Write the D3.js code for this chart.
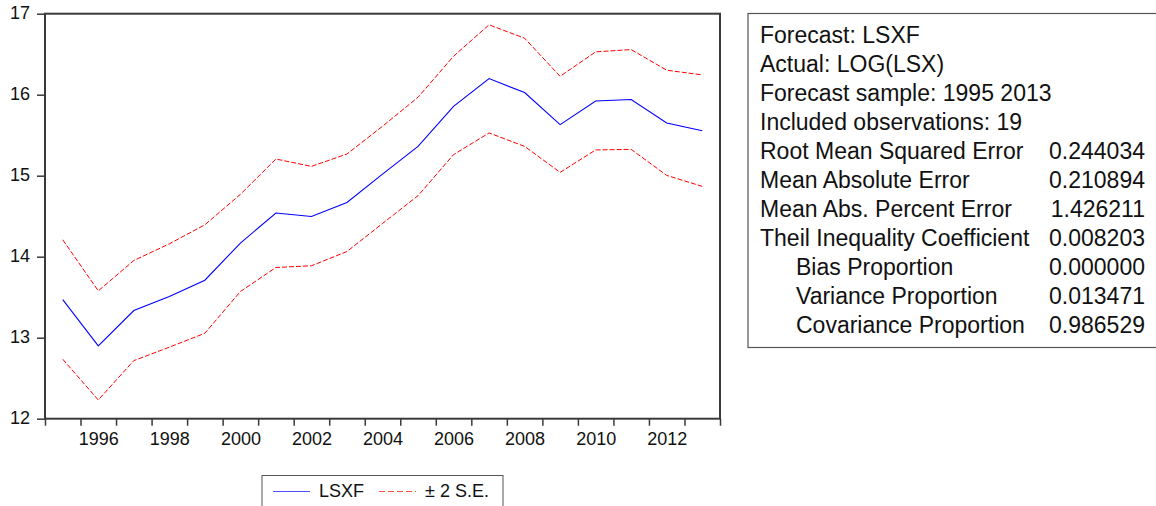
<!DOCTYPE html>
<html>
<head>
<meta charset="utf-8">
<script src="https://cdn.jsdelivr.net/npm/d3@7"></script>
<style>
  html, body { margin: 0; padding: 0; background: #fff; }
  svg { display: block; font-family: "Liberation Sans", Arial, sans-serif; }
</style>
</head>
<body>
<svg id="chart" width="1156" height="506"></svg>
<script>
// Forecast path of LSXF with a band of plus/minus two standard errors
const years = [1995, 1996, 1997, 1998, 1999, 2000, 2001, 2002, 2003, 2004,
               2005, 2006, 2007, 2008, 2009, 2010, 2011, 2012, 2013];
const lsxf  = [13.47, 12.90, 13.335, 13.51, 13.71, 14.168, 14.54, 14.497, 14.67, 15.02,
               15.362, 15.857, 16.199, 16.026, 15.63, 15.923, 15.94, 15.651, 15.556];
const upper = [14.209, 13.578, 13.953, 14.159, 14.394, 14.77, 15.206, 15.115, 15.268, 15.61,
               15.968, 16.475, 16.863, 16.697, 16.227, 16.529, 16.557, 16.302, 16.245];
const lower = [12.734, 12.231, 12.717, 12.883, 13.055, 13.57, 13.867, 13.888, 14.064, 14.41,
               14.753, 15.26, 15.528, 15.362, 15.041, 15.318, 15.325, 15.004, 14.868];

const yTicks = [12, 13, 14, 15, 16, 17];
const xLabelYears = [1996, 1998, 2000, 2002, 2004, 2006, 2008, 2010, 2012];

const legendLabels = ["LSXF", "\u00b1 2 S.E."];

// Forecast evaluation statistics
const statLabels = [
  "Forecast: LSXF",
  "Actual: LOG(LSX)",
  "Forecast sample: 1995 2013",
  "Included observations: 19",
  "Root Mean Squared Error",
  "Mean Absolute Error",
  "Mean Abs. Percent Error",
  "Theil Inequality Coefficient",
  "Bias Proportion",
  "Variance Proportion",
  "Covariance Proportion"
];
const statValues = ["", "", "", "", "0.244034", "0.210894", "1.426211", "0.008203",
                    "0.000000", "0.013471", "0.986529"];
const statLevels = [0, 0, 0, 0, 0, 0, 0, 0, 1, 1, 1];

const svg = d3.select("#chart");
const frame = { left: 45, right: 720, top: 13.7, bottom: 418.7 };
const axisColor = "#3a3a3a";

const x = d3.scaleLinear()
  .domain([years[0] - 0.5, years[years.length - 1] + 0.5])
  .range([frame.left, frame.right]);
const y = d3.scaleLinear().domain([12, 17]).range([frame.bottom, frame.top]);

// y axis
const gy = svg.append("g")
  .attr("transform", `translate(${frame.left},0)`)
  .call(d3.axisLeft(y).tickValues(yTicks).tickSize(8).tickPadding(7).tickFormat(d3.format("d")));
gy.select(".domain").remove();
gy.selectAll(".tick line").attr("stroke", axisColor).attr("stroke-width", 1.5);
gy.selectAll(".tick text").attr("font-size", 18).attr("fill", "#111")
  .attr("font-family", "Liberation Sans, Arial, sans-serif").attr("dy", "0.25em");

// x axis: ticks on year boundaries, labels centred on even years
const boundaries = years.map(v => v - 0.5).concat([years[years.length - 1] + 0.5]);
const gxTicks = svg.append("g")
  .attr("transform", `translate(0,${frame.bottom})`)
  .call(d3.axisBottom(x).tickValues(boundaries).tickSize(7).tickFormat(""));
gxTicks.select(".domain").remove();
gxTicks.selectAll(".tick line").attr("stroke", axisColor).attr("stroke-width", 1.5);

const gxLabels = svg.append("g")
  .attr("transform", `translate(0,${frame.bottom})`)
  .call(d3.axisBottom(x).tickValues(xLabelYears).tickSize(0).tickPadding(13.5).tickFormat(d3.format("d")));
gxLabels.select(".domain").remove();
gxLabels.selectAll(".tick text").attr("font-size", 18).attr("fill", "#111")
  .attr("font-family", "Liberation Sans, Arial, sans-serif");

// series
const line = d3.line().x((d, i) => x(years[i])).y(d => y(d));

svg.append("path").datum(upper)
  .attr("d", line).attr("fill", "none")
  .attr("stroke", "#ff0000").attr("stroke-width", 1).attr("stroke-dasharray", "5,2");
svg.append("path").datum(lower)
  .attr("d", line).attr("fill", "none")
  .attr("stroke", "#ff0000").attr("stroke-width", 1).attr("stroke-dasharray", "5,2");
svg.append("path").datum(lsxf)
  .attr("d", line).attr("fill", "none")
  .attr("stroke", "#0000ff").attr("stroke-width", 1.1);

// plot frame
svg.append("rect")
  .attr("x", frame.left).attr("y", frame.top)
  .attr("width", frame.right - frame.left).attr("height", frame.bottom - frame.top)
  .attr("fill", "none").attr("stroke", axisColor).attr("stroke-width", 2);

// legend
const lg = svg.append("g");
lg.append("rect").attr("x", 262).attr("y", 475.5).attr("width", 241).attr("height", 40)
  .attr("fill", "#fff").attr("stroke", "#555").attr("stroke-width", 1);
lg.append("line").attr("x1", 273).attr("x2", 310).attr("y1", 491.5).attr("y2", 491.5)
  .attr("stroke", "#5050ff").attr("stroke-width", 1);
lg.append("text").attr("x", 319).attr("y", 497).attr("font-size", 18).attr("fill", "#111")
  .text(legendLabels[0]);
lg.append("line").attr("x1", 379).attr("x2", 416).attr("y1", 491.5).attr("y2", 491.5)
  .attr("stroke", "#ff5050").attr("stroke-width", 1).attr("stroke-dasharray", "6,3");
lg.append("text").attr("x", 425).attr("y", 497).attr("font-size", 18).attr("fill", "#111")
  .text(legendLabels[1]);

// statistics box
const sb = svg.append("g");
sb.append("rect").attr("x", 748).attr("y", 13.5).attr("width", 430).attr("height", 334)
  .attr("fill", "#fff").attr("stroke", "#555").attr("stroke-width", 1.2);
const rowH = 29, firstBaseline = 43;
sb.selectAll("text.lab").data(statLabels).join("text")
  .attr("class", "lab")
  .attr("x", (d, i) => 760 + statLevels[i] * 36)
  .attr("y", (d, i) => firstBaseline + i * rowH)
  .attr("font-size", 23).attr("fill", "#111")
  .text(d => d);
sb.selectAll("text.val").data(statValues).join("text")
  .attr("class", "val")
  .attr("x", 1145)
  .attr("y", (d, i) => firstBaseline + i * rowH)
  .attr("text-anchor", "end")
  .attr("font-size", 23).attr("fill", "#111")
  .text(d => d);
</script>
</body>
</html>
